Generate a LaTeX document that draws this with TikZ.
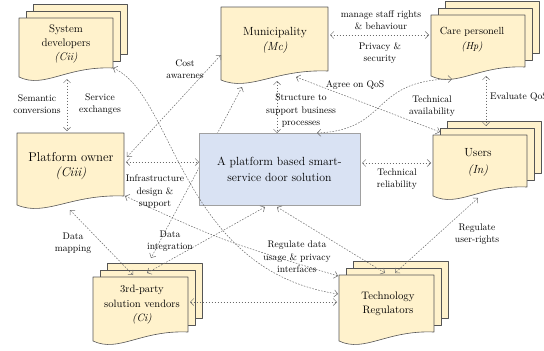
\documentclass[tikz,border=0pt]{standalone}
\usetikzlibrary{arrows.meta}
\newcommand\tnr{\rmfamily}
\definecolor{docfill}{HTML}{FFF2CC}
\definecolor{docline}{HTML}{555555}
\definecolor{platfill}{HTML}{D9E2F3}
\definecolor{platline}{HTML}{A0A0A0}
\definecolor{conn}{HTML}{6A6A6A}
\tikzset{
 docsty/.style={fill=docfill, draw=docline, line width=0.6pt, line join=round},
 link/.style={draw=conn, line width=0.5pt, dash pattern=on 1.6pt off 1.4pt,
   {Straight Barb[length=3.5pt,width=7pt]}-{Straight Barb[length=3.5pt,width=7pt]}},
 lbl/.style={align=center, inner sep=0pt, font=\tnr\fontsize{9.6}{12.5}\selectfont, text=black},
 nodetxt/.style={align=center, inner sep=0pt, text=black},
 platbox/.style={fill=platfill, draw=platline, line width=0.6pt, align=center, inner sep=0pt,
   font=\tnr\fontsize{11.8}{16}\selectfont, text=black},
}
\newcommand\docshp[4]{\filldraw[docsty] (#1,#2) -- (#3,#2) -- (#3,{#4-9}) .. controls ({#1+0.5*(#3-#1)},{#4-11}) and ({#1+0.27*(#3-#1)},{#4+12}) .. (#1,#4) -- cycle;}
\newcommand\multidocshp[4]{%
 \filldraw[docsty] ({#1+14},{#2-14}) rectangle ({#3+14},{#4-9-14});
 \filldraw[docsty] ({#1+7},{#2-7}) rectangle ({#3+7},{#4-9-7});
 \docshp{#1}{#2}{#3}{#4}}
\begin{document}
\begin{tikzpicture}[x=1pt,y=-1pt]
\useasboundingbox (0,0) rectangle (544,351);
\fill[white] (0,0) rectangle (544,351);

% connector end points
\coordinate (ciiB) at (67,79); \coordinate (ciiiT) at (67,131);
\coordinate (ciiR) at (113,68); \coordinate (techL2) at (338,294);
\coordinate (ciiiR1) at (127,157); \coordinate (mcL) at (221,55);
\coordinate (ciiiR2) at (126,162); \coordinate (platW) at (199,162);
\coordinate (ciiiBR) at (125,196); \coordinate (techL1) at (338,276);
\coordinate (ciiiB) at (70,210); \coordinate (ciT1) at (133,275);
\coordinate (mcB1) at (242,87); \coordinate (ciT0) at (151,258);
\coordinate (platS1) at (265,207); \coordinate (ciT2) at (147,273);
\coordinate (mcB2) at (277,81); \coordinate (platN) at (277,133);
\coordinate (mcR) at (330,35); \coordinate (hpL) at (429,35);
\coordinate (mcBR) at (296,77); \coordinate (inTL) at (440,132);
\coordinate (platN2) at (317,133); \coordinate (hpB) at (452,79);
\coordinate (hpB2) at (486,76); \coordinate (inT) at (486,126);
\coordinate (platE) at (362,163); \coordinate (inL) at (431,163);
\coordinate (inB) at (478,198); \coordinate (techT2) at (395,273);
\coordinate (platS2) at (277,207); \coordinate (techT1) at (385,273);
\coordinate (ciR) at (190,302); \coordinate (techL3) at (337,302);

% line running behind the platform box
\draw[link] (mcB1) -- (ciT0);

% shapes
\multidocshp{19}{18}{113}{77}
\docshp{221}{7}{328}{80}
\multidocshp{431}{15}{525}{76}
\docshp{17}{133}{124}{205}
\multidocshp{433}{135}{527}{196}
\multidocshp{93}{277}{188}{341}
\multidocshp{339}{275}{434}{341}
\node[platbox, minimum width=161pt, minimum height=72pt] (plat) at (279.5,169) {A platform based smart-\\service door solution};

% node texts
\node[nodetxt, font=\tnr\fontsize{11}{14}\selectfont] (cii) at (66,44) {System\\developers\\\textit{(Cii)}};
\node[nodetxt, font=\tnr\fontsize{11.8}{15}\selectfont] (mc) at (275,40) {Municipality\\\textit{(Mc)}};
\node[nodetxt, font=\tnr\fontsize{10.3}{15}\selectfont] (hp) at (472,40) {Care personell\\\textit{(Hp)}};
\node[nodetxt, font=\tnr\fontsize{12.8}{15.5}\selectfont] (ciii) at (71,166) {Platform owner\\\textit{(Ciii)}};
\node[nodetxt, font=\tnr\fontsize{11.8}{17}\selectfont] (in) at (478,162) {Users\\\textit{(In)}};
\node[nodetxt, font=\tnr\fontsize{10.6}{14.5}\selectfont] (ci) at (142,305) {3rd-party\\solution vendors\\\textit{(Ci)}};
\node[nodetxt, font=\tnr\fontsize{10.8}{13.5}\selectfont] (tech) at (388,304) {Technology\\Regulators};

% connectors
\draw[link] (ciiB) -- (ciiiT);
\draw[link] (ciiR) .. controls (175,95) and (180,270) .. (techL2);
\draw[link] (ciiiR1) -- (mcL);
\draw[link] (ciiiR2) -- (platW);
\draw[link] (ciiiBR) .. controls (220,240) .. (techL1);
\draw[link] (ciiiB) -- (ciT1);
\draw[link] (platS1) -- (ciT2);
\draw[link] (mcB2) -- (platN);
\draw[link] (mcR) -- (hpL);
\draw[link] (mcBR) -- (inTL);
\draw[link] (platN2) .. controls (390,130) and (370,80) .. (hpB);
\draw[link] (hpB2) -- (inT);
\draw[link] (platE) -- (inL);
\draw[link] (inB) -- (techT2);
\draw[link] (platS2) -- (techT1);
\draw[link] (ciR) -- (techL3);

% labels
\node[lbl] (l1) at (37,104) {Semantic\\conversions};
\node[lbl] (l2) at (100,104) {Service\\exchanges};
\node[lbl] (l3) at (185,69) {Cost\\awarenes};
\node[lbl] (l4) at (381,20) {manage staff rights\\\& behaviour};
\node[lbl] (l5) at (380,53) {Privacy \&\\security};
\node[lbl] (l6) at (301,111) {Structure to\\support business\\processes};
\node[lbl] (l7) at (355,85) {Agree on QoS};
\node[lbl] (l8) at (432,106) {Technical\\availability};
\node[lbl, anchor=west] (l9) at (490,97) {Evaluate QoS};
\node[lbl] (l10) at (155,192) {Infrastructure\\design \&\\support};
\node[lbl] (l11) at (397,179) {Technical\\reliability};
\node[lbl] (l12) at (477,234) {Regulate\\user-rights};
\node[lbl] (l13) at (73,243) {Data\\mapping};
\node[lbl] (l14) at (170,241) {Data\\integration};
\node[lbl] (l15) at (297,257) {Regulate data\\usage \& privacy\\interfaces};
\end{tikzpicture}
\end{document}
